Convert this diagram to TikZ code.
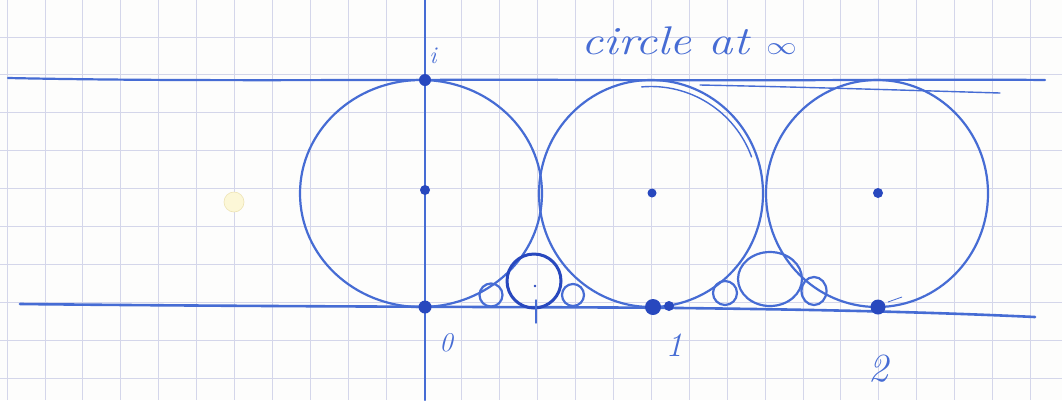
\documentclass[tikz,border=0pt]{standalone}
\usetikzlibrary{calc}
\definecolor{penblue}{RGB}{70,108,212}
\definecolor{inkdark}{RGB}{40,72,190}
\definecolor{gridc}{RGB}{212,214,234}
\definecolor{paper}{RGB}{253,253,252}
\definecolor{stainfill}{RGB}{252,247,215}
\definecolor{staindraw}{RGB}{238,228,180}
\begin{document}
\begin{tikzpicture}[x=1pt,y=-1pt,
  pen/.style={draw=penblue, line width=2.2pt, line cap=round, line join=round},
  thinpen/.style={draw=penblue, line width=1.4pt, line cap=round, line join=round},
  boldpen/.style={draw=inkdark, line width=3pt, line cap=round},
  inkdot/.style={fill=inkdark},
  gridline/.style={draw=gridc, line width=0.7pt},
  hand/.style={text=penblue, inner sep=0pt}]
\useasboundingbox (0,0) rectangle (1062,400);
\fill[paper] (0,0) rectangle (1062,400);
% grid paper
\foreach \i in {0,...,27} \draw[gridline] ({7+37.9*\i},0) -- ({7+37.9*\i},400);
\foreach \j in {0,...,10} \draw[gridline] (0,{-1+37.9*\j}) -- (1062,{-1+37.9*\j});
% paper stain
\filldraw[fill=stainfill, draw=staindraw, line width=0.6pt] (234,202) circle (10);
% imaginary axis
\draw[pen] (425,0) -- (425,400);
% circle at infinity (top line) and real line
\draw[pen] (8,78) .. controls (200,82) and (400,79) .. (600,80) .. controls (800,81) and (950,79) .. (1045,80);
\draw[thinpen] (700,85) .. controls (800,87) and (900,90) .. (1000,93);
\draw[pen, line width=2.6pt] (20,304) .. controls (300,307) and (600,307) .. (680,308) .. controls (850,310) and (950,313) .. (1035,317);
% Ford circles at 0, 1, 2
\draw[pen] (421,193.5) ellipse [x radius=121, y radius=113.5];
\draw[pen] (651,193.5) ellipse [x radius=112, y radius=113.5];
\draw[thinpen] ($(651,193.5)+(-95:107)$) arc[start angle=-95, end angle=-20, radius=107];
\draw[pen] (877,193.5) ellipse [x radius=111, y radius=113.5];
% circles at 1/2, 1/3, 2/3
\draw[boldpen] (534,281) circle (27);
\draw[pen] (491,295) circle (11.5);
\draw[pen] (573,295) circle (11);
% circles at 3/2, 4/3, 5/3
\draw[pen] (770,279) ellipse [x radius=32, y radius=27];
\draw[pen] (725,293) circle (12);
\draw[pen] (814,291) ellipse [x radius=12.5, y radius=14];
% tick at 1/2 and stray mark near 2
\draw[thinpen] (536,300) -- (536,323);
\fill[inkdot] (535,286) circle (1.3);
\draw[draw=penblue, line width=0.8pt] (888,302) -- (902,297);
% points
\fill[inkdot] (425,80) circle (6);
\fill[inkdot] (425,190) circle (5);
\fill[inkdot] (425,307) circle (6.5);
\fill[inkdot] (653,307) circle (8);
\fill[inkdot] (669,306) circle (5);
\fill[inkdot] (652,193) circle (4.5);
\fill[inkdot] (878,193) circle (5);
\fill[inkdot] (878,307) circle (7.5);
% labels
\node[hand, font=\fontsize{24}{28}\selectfont\itshape] (li) at (433,56) {i};
\node[hand, font=\fontsize{27}{30}\selectfont\itshape] (l0) at (446,343) {0};
\node[hand, font=\fontsize{34}{38}\selectfont\itshape] (l1) at (674,345) {1};
\node[hand, font=\fontsize{40}{44}\selectfont\itshape] (l2) at (878,369) {2};
\node[hand, font=\fontsize{40}{44}\selectfont\itshape, xscale=1.22] (linf) at (689,41) {circle at $\infty$};
\end{tikzpicture}
\end{document}
